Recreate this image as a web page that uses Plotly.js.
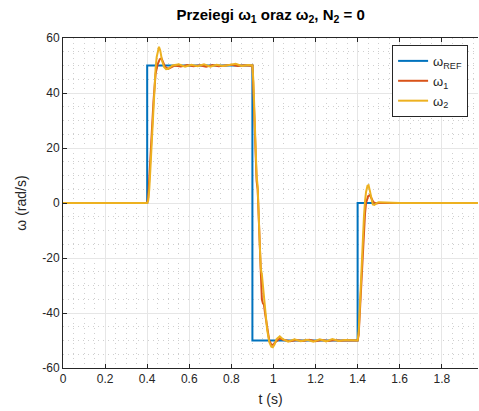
<!DOCTYPE html>
<html>
<head>
<meta charset="utf-8">
<script src="https://cdn.plot.ly/plotly-3.0.1.min.js"></script>
<style>html,body{margin:0;padding:0;background:#fff;}#chart{width:479px;height:411px;}</style>
</head>
<body>
<div id="chart"></div>
<script>
// Reference speed
var tRef = [0, 0.4, 0.4, 0.9, 0.9, 1.4, 1.4, 2.0];
var wRef = [0, 0, 50, 50, -50, -50, 0, 0];

// omega_1
var t1 = [0, 0.4, 0.405, 0.41, 0.415, 0.42, 0.425, 0.43, 0.435, 0.44, 0.45, 0.46, 0.468, 0.475, 0.485, 0.5, 0.515, 0.53,
  0.56, 0.59, 0.62, 0.65, 0.68, 0.71, 0.74, 0.77, 0.80, 0.83, 0.86, 0.89, 0.9,
  0.903, 0.91, 0.915, 0.92, 0.925, 0.93, 0.935, 0.94, 0.945, 0.95, 0.955, 0.96, 0.97, 0.98, 0.99, 1.0, 1.01, 1.03, 1.05,
  1.08, 1.11, 1.14, 1.17, 1.20, 1.23, 1.26, 1.29, 1.32, 1.35, 1.38, 1.4,
  1.405, 1.41, 1.415, 1.42, 1.425, 1.43, 1.435, 1.44, 1.45, 1.458, 1.465, 1.475, 1.49, 1.5, 1.6, 1.8, 2.0];
var w1 = [0, 0, 2, 8, 15, 22, 30, 37, 43, 47, 50.5, 52.3, 52.6, 51.5, 49.5, 48.8, 49.3, 50,
  49.6, 50.2, 49.7, 50.1, 49.6, 50.2, 49.7, 50.1, 50.3, 49.8, 50.1, 49.9, 50,
  45, 30, 15, 8, 5, -5, -20, -27, -35, -36.5, -37, -40, -46, -50, -51.5, -51.5, -50.5, -49.3, -49.8,
  -50.3, -49.8, -50.2, -49.7, -50.3, -49.8, -50.2, -49.8, -50.1, -49.9, -50, -50,
  -48, -40, -32, -24, -16, -9, -4, 0, 2.5, 2.9, 2, 0.3, -0.2, 0, 0, 0, 0];

// omega_2
var t2 = [0, 0.4, 0.405, 0.41, 0.415, 0.42, 0.425, 0.43, 0.435, 0.44, 0.445, 0.45, 0.456, 0.462, 0.47, 0.48, 0.49, 0.5, 0.51, 0.52,
  0.55, 0.58, 0.61, 0.64, 0.67, 0.70, 0.73, 0.76, 0.79, 0.82, 0.85, 0.88, 0.9,
  0.905, 0.91, 0.915, 0.92, 0.925, 0.93, 0.935, 0.94, 0.945, 0.95, 0.96, 0.97, 0.98, 0.99, 0.997, 1.005, 1.015, 1.03, 1.045,
  1.07, 1.10, 1.13, 1.16, 1.19, 1.22, 1.25, 1.28, 1.31, 1.34, 1.37, 1.4,
  1.405, 1.41, 1.415, 1.42, 1.425, 1.43, 1.435, 1.44, 1.447, 1.452, 1.458, 1.465, 1.472, 1.48, 1.49, 1.5, 1.6, 1.8, 2.0];
var w2 = [0, 0, 1, 5, 12, 20, 28, 36, 43, 49, 53, 55.5, 56.8, 55.5, 52, 49.5, 48.7, 48.8, 49.5, 50,
  50.4, 49.6, 50.3, 49.7, 50.4, 49.6, 50.3, 49.8, 50.2, 50.6, 49.8, 50.2, 50,
  44, 32, 20, 10, 6, -2, -15, -24, -26, -30, -38, -46, -50.5, -52.3, -52.5, -51.5, -49.5, -48.5, -49.5,
  -50.4, -49.6, -50.3, -49.7, -50.4, -49.6, -50.3, -49.5, -50.2, -49.8, -50, -50,
  -47, -38, -29, -20, -12, -5, 0.5, 4, 6.3, 6.5, 4.5, 1.5, -0.5, -0.7, 0, 0.3, 0, 0, 0];

var xTicks = [0, 0.2, 0.4, 0.6, 0.8, 1, 1.2, 1.4, 1.6, 1.8];
var xTickText = ['0', '0.2', '0.4', '0.6', '0.8', '1', '1.2', '1.4', '1.6', '1.8'];
var yTicks = [-60, -40, -20, 0, 20, 40, 60];
var yTickText = ['-60', '-40', '-20', '0', '20', '40', '60'];

var traces = [
  {x: tRef, y: wRef, mode: 'lines', name: 'ω<sub>REF</sub>', line: {color: '#0072BD', width: 2}},
  {x: t1, y: w1, mode: 'lines', name: 'ω<sub>1</sub>', line: {color: '#D95319', width: 2}},
  {x: t2, y: w2, mode: 'lines', name: 'ω<sub>2</sub>', line: {color: '#EDB120', width: 2}}
];

var FONT = 'Liberation Sans, Arial, sans-serif';
var axisCommon = {
  showline: true, linecolor: '#262626', linewidth: 1,
  ticks: 'inside', ticklen: 4, tickcolor: '#262626',
  showgrid: true, gridcolor: '#e6e6e6', gridwidth: 1,
  zeroline: false,
  tickfont: {family: FONT, size: 12, color: '#262626'}
};

var layout = {
  width: 479, height: 411,
  margin: {l: 63, r: 1, t: 38, b: 43},
  paper_bgcolor: '#ffffff', plot_bgcolor: '#ffffff',
  showlegend: true,
  title: {text: '<b>Przeiegi ω<sub>1</sub> oraz ω<sub>2</sub>, N<sub>2</sub> = 0</b>',
    font: {family: FONT, size: 15, color: '#000'},
    x: 0.565, xanchor: 'center', y: 0.965, yanchor: 'middle'},
  xaxis: Object.assign({}, axisCommon, {
    range: [0, 1.972], tickvals: xTicks, ticktext: xTickText, mirror: 'ticks',
    minor: {dtick: 0.05, showgrid: true, gridcolor: '#cfcfcf', griddash: '1px,4px', gridwidth: 1, ticks: ''},
    title: {text: 't (s)', font: {family: FONT, size: 14, color: '#262626'}, standoff: 8}
  }),
  yaxis: Object.assign({}, axisCommon, {
    range: [-60, 60], tickvals: yTicks, ticktext: yTickText, mirror: false,
    minor: {dtick: 5, showgrid: true, gridcolor: '#cfcfcf', griddash: '1px,4px', gridwidth: 1, ticks: ''},
    title: {text: 'ω (rad/s)', font: {family: FONT, size: 14, color: '#262626'}, standoff: 12}
  }),
  legend: {
    x: 0.793, y: 0.979, xanchor: 'left', yanchor: 'top',
    bgcolor: '#ffffff', bordercolor: '#262626', borderwidth: 1,
    font: {family: FONT, size: 13, color: '#262626'},
    tracegroupgap: 0
  }
};

Plotly.newPlot('chart', traces, layout, {displayModeBar: false, staticPlot: true});
</script>
</body>
</html>
